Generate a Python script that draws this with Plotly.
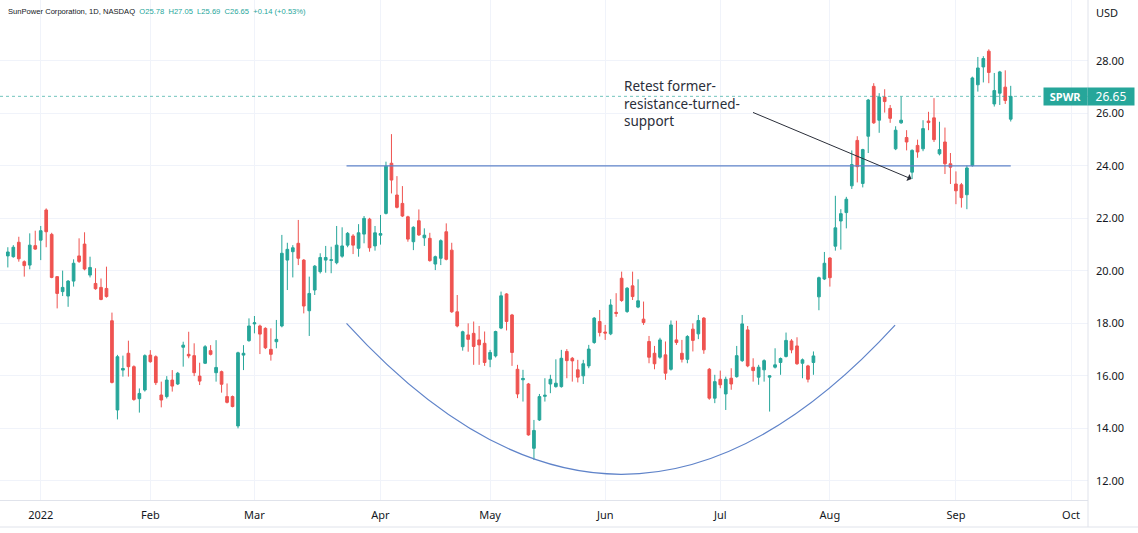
import numpy as np
import pandas as pd
import plotly.graph_objects as go

# ---------------- data ----------------
HOLIDAYS = ["2021-12-24", "2022-01-17", "2022-02-21", "2022-04-15",
            "2022-05-30", "2022-06-20", "2022-07-04", "2022-09-05"]
FIRST_DAY = "2021-12-23"
LAST_DAY = "2022-09-16"

OPEN = [20.57, 20.54, 21.09, 20.35, 20.22, 20.96,
        21.17, 22.32, 21.39, 19.78, 19.21, 19.04, 19.61, 20.57, 21.02, 19.84, 19.52, 19.37, 19.33, 18.10, 14.70, 16.22, 16.86, 16.35, 15.13, 15.46,
        16.79, 16.73, 15.27, 15.21, 15.84, 15.69, 17.09, 16.82, 16.77, 15.99, 16.48, 16.96, 16.12, 16.16, 15.21, 15.21, 14.09, 16.79, 17.34,
        17.98, 17.90, 17.81, 17.01, 17.30, 17.90, 20.41, 20.73, 21.05, 20.41, 18.48, 19.27, 19.97, 20.41, 20.40, 20.31, 20.56, 20.98, 21.33, 20.86, 21.40, 21.97, 20.95,
        21.36, 22.19, 24.10, 22.89, 22.57, 22.06, 21.11, 21.91, 21.26, 21.24, 20.26, 20.48, 21.49, 20.79, 18.44, 17.11, 17.56, 17.62, 17.37, 17.24,
        16.63, 16.76, 17.82, 19.12, 18.32, 16.25, 15.85, 15.69, 13.24, 14.32, 15.22, 15.69, 15.59, 15.59, 16.93, 16.67, 16.23, 16.00, 16.38, 17.27, 18.07,
        17.67, 17.60, 18.42, 19.72, 18.45, 19.43, 18.62, 18.16, 17.31, 16.86, 16.71, 16.80, 16.25, 17.37, 16.86, 16.63, 17.78, 17.60, 18.20, 16.25, 15.15,
        15.87, 15.31, 15.91, 15.97, 16.58, 17.75, 16.33, 15.95, 16.23, 15.95, 16.33, 16.51, 16.74, 17.33, 17.14, 16.48, 16.38, 16.51, 19.01, 19.69,
        20.49, 20.94, 21.90, 22.22, 23.24, 24.97, 23.33, 25.13, 27.03, 25.74, 26.62, 26.19, 24.65, 25.64, 25.08, 23.76, 24.78, 24.65, 25.71, 25.83, 24.46, 24.91, 24.08,
        23.31, 23.28, 22.90, 24.01, 27.09, 27.77, 28.37, 26.36, 26.77, 27.00, 25.78]
HIGH = [20.90, 20.98, 21.30, 20.40, 21.43, 21.53,
        21.71, 22.38, 21.45, 19.80, 20.01, 19.65, 20.44, 21.24, 21.47, 20.54, 20.10, 19.71, 20.16, 18.41, 16.80, 16.77, 17.34, 16.40, 15.52, 16.82,
        16.98, 16.78, 15.78, 15.99, 16.22, 16.15, 17.30, 17.68, 17.24, 16.50, 17.17, 17.17, 17.36, 16.20, 15.71, 15.25, 16.92, 17.17, 18.19,
        18.28, 17.95, 17.85, 17.81, 18.13, 21.37, 21.07, 20.98, 21.94, 20.45, 19.78, 20.22, 20.67, 20.95, 20.92, 21.71, 21.66, 21.48, 21.40, 21.78, 22.09, 22.02, 21.71,
        22.13, 24.16, 25.21, 23.61, 23.23, 22.10, 21.70, 22.34, 21.62, 21.45, 20.58, 21.20, 21.81, 21.07, 19.08, 17.72, 18.00, 18.07, 17.90, 17.69,
        16.99, 17.72, 19.21, 19.15, 18.36, 16.42, 16.23, 15.73, 14.32, 15.31, 15.91, 16.04, 16.63, 16.99, 17.02, 16.72, 16.61, 16.61, 17.18, 18.24, 18.51,
        17.94, 18.92, 19.15, 19.97, 19.38, 19.97, 19.68, 18.83, 17.52, 17.14, 17.45, 17.31, 18.11, 18.10, 17.37, 17.55, 18.00, 18.32, 18.24, 16.30, 16.04,
        16.20, 15.97, 16.29, 17.14, 18.32, 17.90, 16.67, 16.42, 16.63, 16.02, 17.05, 16.70, 17.65, 17.40, 17.47, 16.66, 16.42, 16.93, 19.78, 20.72,
        20.52, 22.86, 22.35, 22.82, 24.59, 25.13, 24.65, 26.55, 27.15, 26.77, 26.92, 26.32, 25.51, 26.64, 25.36, 24.63, 25.00, 25.74, 26.06, 26.58, 25.68, 25.46, 24.49,
        23.79, 23.35, 24.01, 27.40, 28.15, 28.18, 28.44, 27.54, 27.62, 27.64, 27.05]
LOW = [20.13, 20.50, 20.35, 19.78, 20.06, 20.80,
       20.41, 20.90, 19.72, 18.57, 19.04, 18.63, 19.40, 20.30, 20.02, 19.75, 19.28, 18.88, 18.98, 15.71, 14.34, 15.97, 15.97, 15.05, 14.60, 15.40,
       16.50, 15.65, 14.80, 15.14, 15.40, 15.65, 16.35, 16.67, 15.99, 15.65, 16.45, 16.78, 15.78, 15.36, 14.95, 14.80, 14.00, 16.22, 17.30,
       17.62, 16.83, 17.02, 16.58, 17.05, 17.85, 19.27, 19.75, 20.22, 18.38, 17.52, 19.08, 19.90, 19.93, 19.91, 20.25, 20.50, 20.90, 20.64, 20.54, 21.05, 20.73, 20.77,
       21.00, 22.15, 22.95, 22.38, 22.05, 21.11, 20.79, 21.33, 20.95, 20.35, 20.03, 20.22, 20.40, 18.40, 17.85, 16.96, 16.92, 16.42, 16.42, 16.38,
       16.33, 16.70, 17.78, 17.73, 16.38, 15.15, 15.02, 13.72, 12.80, 14.28, 15.02, 15.34, 15.55, 15.55, 15.91, 15.78, 15.75, 15.69, 16.29, 17.22, 17.50,
       17.37, 17.55, 18.25, 18.82, 18.40, 18.89, 18.58, 17.94, 16.48, 16.25, 16.65, 15.85, 16.20, 17.18, 16.51, 16.48, 16.93, 17.40, 16.84, 15.09, 14.96,
       15.53, 14.70, 15.47, 15.93, 16.53, 16.33, 15.78, 15.66, 15.78, 14.64, 16.28, 16.04, 16.70, 16.86, 16.42, 15.91, 15.75, 16.04, 18.50, 19.65,
       19.40, 20.77, 20.81, 21.62, 23.12, 23.37, 23.18, 24.49, 25.60, 25.26, 26.03, 25.64, 24.60, 25.60, 24.59, 23.50, 24.31, 24.56, 25.36, 24.91, 24.40, 23.69, 23.31,
       22.54, 22.41, 22.35, 23.97, 26.83, 27.18, 27.15, 26.26, 26.32, 26.36, 25.69]
CLOSE = [20.72, 20.90, 20.46, 20.20, 20.98, 20.83,
         21.53, 21.49, 19.75, 19.14, 19.37, 19.61, 20.29, 20.36, 20.07, 20.13, 19.32, 18.91, 19.02, 15.75, 16.73, 16.28, 16.35, 15.10, 15.33, 16.77,
         16.54, 15.74, 15.08, 15.84, 15.61, 16.10, 17.17, 16.76, 16.12, 15.80, 17.11, 16.82, 16.32, 15.68, 14.99, 14.83, 16.88, 16.86, 17.90,
         18.02, 17.59, 17.07, 16.82, 17.39, 20.67, 20.82, 20.88, 20.48, 18.66, 19.14, 20.18, 20.51, 20.51, 20.42, 20.98, 20.95, 21.43, 20.98, 21.45, 22.00, 20.88, 21.45,
         21.42, 23.99, 23.46, 22.42, 22.09, 21.21, 21.66, 21.37, 21.36, 20.39, 20.54, 21.15, 20.44, 18.44, 17.90, 17.68, 17.39, 17.12, 17.18, 16.51,
         16.89, 17.69, 19.05, 18.07, 16.89, 15.31, 15.90, 13.75, 13.92, 15.21, 15.26, 15.87, 15.72, 16.67, 16.58, 16.57, 15.95, 16.46, 17.02, 18.20, 17.65,
         17.63, 18.70, 18.38, 18.87, 19.34, 19.02, 18.86, 18.03, 16.71, 16.46, 17.37, 16.10, 17.94, 17.27, 16.63, 17.50, 17.35, 18.11, 16.99, 15.15, 15.78,
         15.66, 15.87, 15.69, 16.77, 17.98, 16.38, 16.20, 16.33, 16.58, 16.00, 16.42, 16.66, 17.35, 16.99, 16.46, 16.61, 15.87, 16.76, 19.74, 20.29,
         19.74, 21.64, 22.18, 22.73, 24.05, 23.97, 24.62, 26.51, 25.64, 26.62, 26.45, 25.81, 25.36, 25.74, 24.91, 24.59, 24.53, 25.42, 25.65, 25.00, 24.62, 24.08, 23.95,
         23.05, 22.79, 23.92, 27.35, 27.73, 28.09, 27.56, 26.87, 27.58, 26.49, 26.65]

MONTH_LABELS = ["2022", "Feb", "Mar", "Apr", "May", "Jun", "Jul", "Aug", "Sep", "Oct"]
Y_TICKS = [12, 14, 16, 18, 20, 22, 24, 26, 28]
LAST_PRICE = 26.65
TICKER = "SPWR"
HEADER_NAME = "SunPower Corporation, 1D, NASDAQ"
HEADER_VALUES = "O25.78  H27.05  L25.69  C26.65  +0.14 (+0.53%)"
NOTE_TEXT = "Retest former-<br>resistance-turned-<br>support"

# drawings (bar offsets counted from the first 2022 session, prices in USD)
RESIST_LEVEL = 24.00
RESIST_FROM, RESIST_TO = 55.8, 177.0
CUP_START = (55.8, 18.00)
CUP_END = (155.9, 17.93)
CUP_BOTTOM = 12.25
ARROW_TAIL = (129.7, 26.06)
ARROW_TIP = (158.9, 23.50)
NOTE_AT = (106.0, 26.39)

UP, DOWN = "#26a69a", "#ef5350"
TEXT, GRID, BORDER = "#131722", "#f0f3fa", "#e0e3eb"
DRAW = "#5f83c9"

# ---------------- trading-day axis ----------------
dates = pd.bdate_range(FIRST_DAY, LAST_DAY)
dates = dates[~dates.isin(pd.to_datetime(HOLIDAYS))]
bar = np.arange(len(dates))
s = pd.Series(bar, index=dates)
firsts = s.groupby(dates.to_period("M")).first()
firsts = firsts[firsts.index >= pd.Period("2022-01", "M")]
future = len(pd.bdate_range(dates[-1] + pd.Timedelta(days=1), "2022-10-03"))
tick_vals = list(firsts.values) + [bar[-1] + future]
base = int(firsts.values[0])


def bx(v):
    return base + v


fig = go.Figure()
fig.add_trace(go.Candlestick(
    x=bar, open=OPEN, high=HIGH, low=LOW, close=CLOSE,
    increasing=dict(line=dict(color=UP, width=1), fillcolor=UP),
    decreasing=dict(line=dict(color=DOWN, width=1), fillcolor=DOWN),
    whiskerwidth=0,
    text=[d.strftime("%Y-%m-%d") for d in dates], hoverinfo="text+y",
    showlegend=False,
))

shapes = []
shapes.append(dict(type="line", xref="paper", x0=0, x1=1, yref="y",
                   y0=LAST_PRICE, y1=LAST_PRICE,
                   line=dict(color="rgba(38,166,154,0.65)", width=1, dash="dot")))
shapes.append(dict(type="line", xref="x", yref="y", x0=bx(RESIST_FROM), x1=bx(RESIST_TO),
                   y0=RESIST_LEVEL, y1=RESIST_LEVEL, line=dict(color=DRAW, width=1.3)))
cx = (CUP_START[0] + CUP_END[0]) / 2
cy = 2 * CUP_BOTTOM - (CUP_START[1] + CUP_END[1]) / 2
path = (f"M {bx(CUP_START[0])},{CUP_START[1]} Q {bx(cx)},{cy} "
        f"{bx(CUP_END[0])},{CUP_END[1]}")
shapes.append(dict(type="path", xref="x", yref="y", path=path,
                   line=dict(color=DRAW, width=1.2)))
shapes.append(dict(type="line", xref="paper", yref="paper", x0=0, x1=1138 / 1088,
                   y0=-27 / 500, y1=-27 / 500, line=dict(color=BORDER, width=1)))
shapes.append(dict(type="line", xref="paper", yref="paper", x0=1, x1=1,
                   y0=-27 / 500, y1=1, line=dict(color=BORDER, width=1)))

annotations = [
    dict(xref="paper", yref="paper", x=6 / 1088, y=1 - 11 / 500, xanchor="left", yanchor="middle",
         showarrow=False,
         text=f"<span style='color:{TEXT}'>{HEADER_NAME}</span>  "
              f"<span style='color:{UP}'>{HEADER_VALUES}</span>",
         font=dict(family="Liberation Sans", size=7.6)),
    dict(xref="paper", yref="paper", x=1094 / 1088, y=1 - 12 / 500, xanchor="left", yanchor="middle",
         showarrow=False, text="USD", font=dict(family="Noto Sans", size=11, color=TEXT)),
    dict(xref="paper", yref="y", x=1065.5 / 1088, y=LAST_PRICE, xanchor="center", yanchor="middle",
         showarrow=False, text=f"<b>{TICKER}</b>", bgcolor=UP, width=43, height=17, borderpad=0,
         font=dict(family="Noto Sans", size=11, color="white")),
    dict(xref="paper", yref="y", x=1111 / 1088, y=LAST_PRICE, xanchor="center", yanchor="middle",
         showarrow=False, text=f"{LAST_PRICE:.2f}", bgcolor=UP, width=46, height=17, borderpad=0,
         font=dict(family="Noto Sans", size=12, color="white")),
    dict(xref="x", yref="y", x=bx(NOTE_AT[0]), y=NOTE_AT[1], xanchor="left", yanchor="middle",
         align="left", showarrow=False, text=NOTE_TEXT,
         font=dict(family="Noto Sans", size=13.5, color="#2a2e39")),
    dict(xref="x", yref="y", x=bx(ARROW_TIP[0]), y=ARROW_TIP[1],
         axref="x", ayref="y", ax=bx(ARROW_TAIL[0]), ay=ARROW_TAIL[1],
         text="", showarrow=True, arrowhead=1, arrowsize=1.3, arrowwidth=1, arrowcolor="#2a2e39"),
]

fig.update_layout(
    width=1138, height=533,
    margin=dict(l=0, r=50, t=0, b=33),
    paper_bgcolor="white", plot_bgcolor="white",
    shapes=shapes, annotations=annotations,
    hovermode="closest",
    xaxis=dict(range=[bx(-7.43), bx(191.1)], tickvals=tick_vals, ticktext=MONTH_LABELS,
               showgrid=True, gridcolor=GRID, zeroline=False, showline=True, linecolor=BORDER,
               ticks="", ticklabelstandoff=5, rangeslider=dict(visible=False),
               tickfont=dict(family="Noto Sans", size=11, color=TEXT)),
    yaxis=dict(side="right", range=[11.27, 30.32], tickvals=Y_TICKS,
               ticktext=[f"{v:.2f}" for v in Y_TICKS],
               showgrid=True, gridcolor=GRID, zeroline=False, showline=False,
               ticks="", ticklabelstandoff=7,
               tickfont=dict(family="Noto Sans", size=11, color=TEXT)),
)

fig.write_html("out.html", config={"displayModeBar": False},
               post_script="document.body.style.margin='0px';document.body.style.overflow='hidden';")
